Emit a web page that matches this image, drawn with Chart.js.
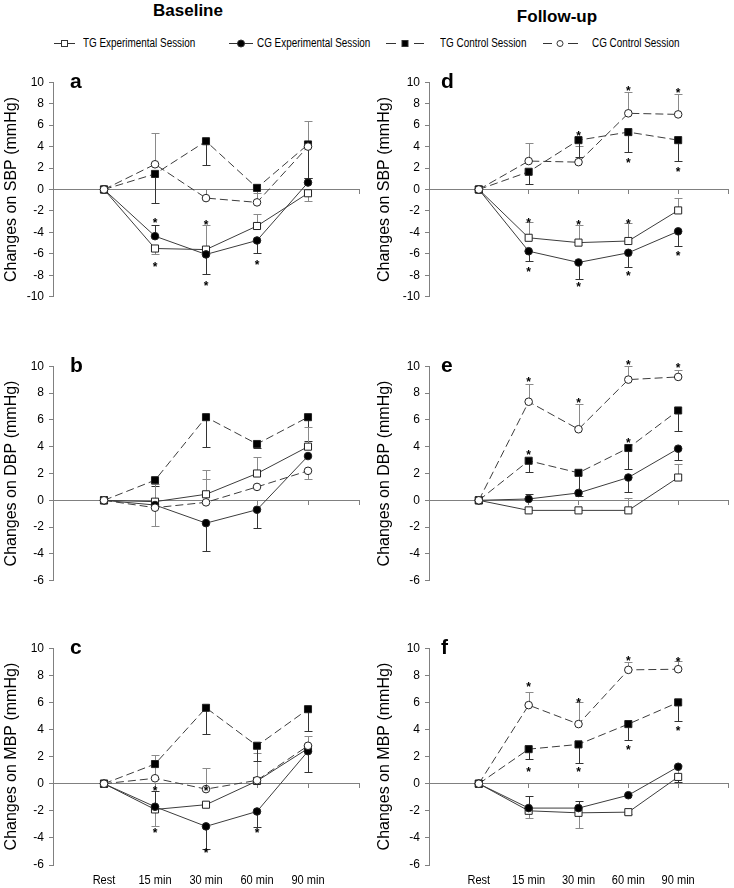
<!DOCTYPE html>
<html>
<head>
<meta charset="utf-8">
<title>Blood pressure changes</title>
<script src="https://cdn.jsdelivr.net/npm/chart.js@4.4.1/dist/chart.umd.min.js"></script>
<style>
  html, body { margin: 0; padding: 0; background: #fff; }
  body { position: relative; width: 734px; height: 888px; overflow: hidden; font-family: "Liberation Sans", Arial, sans-serif; color: #000; }
  .head { position: absolute; font-weight: bold; font-size: 17px; transform: translateX(-50%); white-space: nowrap; }
  .leg { position: absolute; top: 36px; font-size: 12px; line-height: 14px; white-space: nowrap;
         transform: scaleX(0.825); transform-origin: 0 50%; }
  canvas { position: absolute; }
  #legendMarks { position: absolute; left: 0; top: 33px; }
</style>
</head>
<body>
<div class="head" style="left:188px;top:1px">Baseline</div>
<div class="head" style="left:557px;top:7px">Follow-up</div>

<svg id="legendMarks" width="734" height="20">
  <g stroke="#333" stroke-width="1" fill="none">
    <line x1="54" y1="10.5" x2="75" y2="10.5"/>
    <rect x="61.5" y="7.5" width="6" height="6" fill="#fff"/>
    <line x1="229" y1="10.5" x2="253" y2="10.5"/>
    <circle cx="241" cy="10.5" r="3.5" fill="#000"/>
    <line x1="386" y1="10.5" x2="396" y2="10.5"/>
    <line x1="414" y1="10.5" x2="424" y2="10.5"/>
    <rect x="402" y="7.5" width="6" height="6" fill="#000"/>
    <line x1="543" y1="10.5" x2="552" y2="10.5"/>
    <line x1="568" y1="10.5" x2="578" y2="10.5"/>
    <circle cx="560" cy="10.5" r="3" fill="#fff"/>
  </g>
</svg>
<span class="leg" style="left:83px">TG Experimental Session</span>
<span class="leg" style="left:257px">CG Experimental Session</span>
<span class="leg" style="left:440px">TG Control Session</span>
<span class="leg" style="left:592px">CG Control Session</span>

<canvas id="panelA" width="366" height="239" style="left:0;top:70px"></canvas>
<canvas id="panelD" width="368" height="239" style="left:366px;top:70px"></canvas>
<canvas id="panelB" width="366" height="239" style="left:0;top:354px"></canvas>
<canvas id="panelE" width="368" height="239" style="left:366px;top:354px"></canvas>
<canvas id="panelC" width="366" height="252" style="left:0;top:636px"></canvas>
<canvas id="panelF" width="368" height="252" style="left:366px;top:636px"></canvas>

<script>
const xLabels = ['Rest', '15 min', '30 min', '60 min', '90 min'];
const xPos = [1, 2, 3, 4, 5];

// SBP, baseline (a)
const sbpBaseTgExp = [0, -5.5, -5.6, -3.4, -0.35];
const sbpBaseTgExpErr = [null, -6.05, -3.35, -2.25, -1.05];
const sbpBaseCgExp = [0, -4.35, -6.05, -4.75, 0.65];
const sbpBaseCgExpErr = [null, -3.35, -7.9, -5.95, 1.1];
const sbpBaseTgCtl = [0, 1.45, 4.5, 0.15, 4.2];
const sbpBaseTgCtlErr = [null, -1.25, 2.3, null, 1.1];
const sbpBaseCgCtl = [0, 2.35, -0.8, -1.2, 4.0];
const sbpBaseCgCtlErr = [null, 5.3, null, -0.35, 6.4];
const sbpBaseStars = [[], [-2.85, -6.9], [-3.0, -8.7], [-6.8], []];

// SBP, follow-up (d)
const sbpFollTgExp = [0, -4.5, -4.95, -4.8, -1.95];
const sbpFollTgExpErr = [null, -3.0, -3.35, -3.15, -0.75];
const sbpFollCgExp = [0, -5.75, -6.8, -5.9, -3.9];
const sbpFollCgExpErr = [null, -6.7, -8.35, -7.2, -5.25];
const sbpFollTgCtl = [0, 1.65, 4.6, 5.35, 4.6];
const sbpFollTgCtlErr = [null, 0.5, 3.0, 3.5, 2.65];
const sbpFollCgCtl = [0, 2.65, 2.55, 7.1, 7.0];
const sbpFollCgCtlErr = [null, 4.3, 4.1, 9.1, 8.9];
const sbpFollStars = [[], [-2.85, -7.4], [5.3, -3.0, -8.85], [9.5, 2.75, -2.9, -7.8], [9.3, 1.95, -5.9]];

// DBP, baseline (b)
const dbpBaseTgExp = [0, -0.1, 0.45, 2.0, 4.0];
const dbpBaseTgExpErr = [null, 1.2, 2.25, 3.2, 5.5];
const dbpBaseCgExp = [0, -0.35, -1.7, -0.7, 3.3];
const dbpBaseCgExpErr = [null, null, -3.75, -2.1, null];
const dbpBaseTgCtl = [0, 1.5, 6.2, 4.2, 6.2];
const dbpBaseTgCtlErr = [null, 1.1, 4.0, 3.9, 4.45];
const dbpBaseCgCtl = [0, -0.55, -0.15, 1.0, 2.2];
const dbpBaseCgCtlErr = [null, -1.9, 1.6, null, 1.6];
const dbpBaseStars = [[], [], [], [], []];

// DBP, follow-up (e)
const dbpFollTgExp = [0, -0.75, -0.75, -0.75, 1.7];
const dbpFollTgExpErr = [null, null, null, 0.2, 2.7];
const dbpFollCgExp = [0, 0.1, 0.55, 1.7, 3.85];
const dbpFollCgExpErr = [null, 0.5, null, 0.65, 3.0];
const dbpFollTgCtl = [0, 2.95, 2.05, 3.9, 6.7];
const dbpFollTgCtlErr = [null, 2.1, 0.3, 2.35, 5.15];
const dbpFollCgCtl = [0, 7.35, 5.3, 9.0, 9.2];
const dbpFollCgCtlErr = [null, 8.7, 7.2, 10.0, 9.7];
const dbpFollStars = [[], [9.05, 3.6], [7.5], [10.3, 4.5], [10.1]];

// MBP, baseline (c)
const mbpBaseTgExp = [0, -1.9, -1.55, 0.2, 2.6];
const mbpBaseTgExpErr = [null, -3.1, null, null, 3.5];
const mbpBaseCgExp = [0, -1.7, -3.15, -2.05, 2.4];
const mbpBaseCgExpErr = [null, -0.55, -4.85, -3.2, 0.9];
const mbpBaseTgCtl = [0, 1.45, 5.6, 2.8, 5.5];
const mbpBaseTgCtlErr = [null, null, 3.65, 1.7, 3.9];
const mbpBaseCgCtl = [0, 0.4, -0.4, 0.25, 2.8];
const mbpBaseCgCtlErr = [null, 2.1, 1.15, 2.25, null];
const mbpBaseStars = [[], [-0.35, -3.4], [-0.35, -4.9], [-3.4], []];

// MBP, follow-up (f)
const mbpFollTgExp = [0, -2.0, -2.15, -2.1, 0.5];
const mbpFollTgExpErr = [null, -2.5, -3.25, -2.2, 1.4];
const mbpFollCgExp = [0, -1.8, -1.8, -0.85, 1.25];
const mbpFollCgExpErr = [null, -0.9, -1.25, null, 0.1];
const mbpFollTgCtl = [0, 2.55, 2.9, 4.4, 6.0];
const mbpFollTgCtlErr = [null, 1.8, 1.5, 3.25, 4.6];
const mbpFollCgCtl = [0, 5.8, 4.4, 8.4, 8.45];
const mbpFollCgCtlErr = [null, 6.8, 6.05, 8.95, 9.05];
const mbpFollStars = [[], [7.35, 1.1], [6.2, 1.1], [9.3, 2.7], [9.2, 4.1]];

const FONT = '"Liberation Sans", Arial, sans-serif';
const AXIS = '#808080';
const LINE = '#3c3c3c';

// error bars sit behind the lines and markers
const errorBars = {
    id: 'errorBars',
    beforeDatasetsDraw(chart) {
        const { ctx } = chart;
        const x = chart.scales.x, y = chart.scales.y;
        ctx.save();
        ctx.lineWidth = 1;
        chart.data.datasets.forEach(ds => {
            ctx.strokeStyle = ds.errColor;
            ds.errEnd.forEach((end, i) => {
                if (end === null) return;
                const px = Math.round(x.getPixelForValue(ds.data[i].x)) + 0.5;
                const p0 = y.getPixelForValue(ds.data[i].y);
                const p1 = Math.round(y.getPixelForValue(end)) + 0.5;
                ctx.beginPath();
                ctx.moveTo(px, p0);
                ctx.lineTo(px, p1);
                ctx.moveTo(px - 4, p1);
                ctx.lineTo(px + 4, p1);
                ctx.stroke();
            });
        });
        ctx.restore();
    }
};

// panel letter, significance stars and (bottom row) the condensed time labels
const annotations = {
    id: 'annotations',
    afterDraw(chart, args, opts) {
        const { ctx, chartArea } = chart;
        const x = chart.scales.x, y = chart.scales.y;
        ctx.save();
        ctx.fillStyle = '#000';
        ctx.textBaseline = 'alphabetic';
        ctx.font = 'bold 21px ' + FONT;
        ctx.fillText(opts.letter, chartArea.left + opts.letterDx, chartArea.top + 6);
        ctx.font = 'bold 12px ' + FONT;
        ctx.textAlign = 'center';
        opts.stars.forEach((list, i) => {
            list.forEach(v => {
                ctx.fillText('*', x.getPixelForValue(xPos[i]), y.getPixelForValue(v) + 7);
            });
        });
        const xb = chart.scales.xb;
        if (xb) {
            ctx.font = '13px ' + FONT;
            xPos.forEach((v, i) => {
                ctx.save();
                ctx.translate(xb.getPixelForValue(v), xb.top + 19);
                ctx.scale(0.85, 1);
                ctx.fillText(xLabels[i], 0, 0);
                ctx.restore();
            });
        }
        ctx.restore();
    }
};

function buildDatasets(tgExp, tgExpErr, cgExp, cgExpErr, tgCtl, tgCtlErr, cgCtl, cgCtlErr) {
    const pts = vals => vals.map((v, i) => ({ x: xPos[i], y: v }));
    // index 0 is drawn on top
    return [
        { label: 'CG Control Session', data: pts(cgCtl), errEnd: cgCtlErr, errColor: '#8a8a8a',
          borderDash: [8, 4], pointStyle: 'circle', pointRadius: 3.8, pointBackgroundColor: '#fff' },
        { label: 'TG Control Session', data: pts(tgCtl), errEnd: tgCtlErr, errColor: '#333',
          borderDash: [8, 4], pointStyle: 'rect', pointRadius: 5, pointBackgroundColor: '#000' },
        { label: 'CG Experimental Session', data: pts(cgExp), errEnd: cgExpErr, errColor: '#333',
          pointStyle: 'circle', pointRadius: 3.8, pointBackgroundColor: '#000' },
        { label: 'TG Experimental Session', data: pts(tgExp), errEnd: tgExpErr, errColor: '#8a8a8a',
          pointStyle: 'rect', pointRadius: 5, pointBackgroundColor: '#fff' }
    ].map(d => Object.assign({
        xAxisID: 'x', yAxisID: 'y',
        borderColor: LINE, borderWidth: 1, tension: 0, fill: false,
        pointBorderColor: '#222', pointBorderWidth: 1
    }, d));
}

function makePanel(id, p) {
    const left = p.side === 'left';
    const scales = {
        x: {
            type: 'linear', min: 0, max: 6, position: { y: 0 },
            ticks: { display: false, stepSize: 1 },
            grid: { drawOnChartArea: false, tickLength: 4, color: AXIS },
            border: { color: AXIS }
        },
        y: {
            min: p.yMin, max: p.yMax,
            afterFit: s => { s.width = left ? 53 : 63; },
            ticks: { stepSize: 2, color: '#000', padding: 5, font: { size: 12, family: FONT } },
            grid: { drawOnChartArea: false, tickLength: 4, color: AXIS },
            border: { color: AXIS },
            title: { display: true, text: p.yTitle, color: '#000',
                     font: { size: 16, family: FONT }, padding: { top: left ? 2 : 9, bottom: 0 } }
        }
    };
    if (p.showLabels) {
        // holds the space below the plot; its labels are drawn condensed by the annotations plugin
        scales.xb = {
            type: 'linear', min: 0, max: 6, position: 'bottom',
            afterFit: s => { s.height = 23; },
            ticks: { display: false },
            grid: { display: false },
            border: { display: false }
        };
    }
    return new Chart(document.getElementById(id), {
        type: 'line',
        data: { datasets: p.datasets },
        options: {
            responsive: false,
            animation: false,
            events: [],
            layout: { padding: { top: 10, right: left ? 7 : 1, bottom: p.showLabels ? 0 : 10, left: 0 } },
            plugins: {
                legend: { display: false },
                tooltip: { enabled: false },
                annotations: { letter: p.letter, letterDx: left ? 17 : 12, stars: p.stars }
            },
            scales
        },
        plugins: [errorBars, annotations]
    });
}

makePanel('panelA', { side: 'left', yMin: -10, yMax: 10, yTitle: 'Changes on SBP (mmHg)', letter: 'a', stars: sbpBaseStars,
    datasets: buildDatasets(sbpBaseTgExp, sbpBaseTgExpErr, sbpBaseCgExp, sbpBaseCgExpErr, sbpBaseTgCtl, sbpBaseTgCtlErr, sbpBaseCgCtl, sbpBaseCgCtlErr) });
makePanel('panelD', { side: 'right', yMin: -10, yMax: 10, yTitle: 'Changes on SBP (mmHg)', letter: 'd', stars: sbpFollStars,
    datasets: buildDatasets(sbpFollTgExp, sbpFollTgExpErr, sbpFollCgExp, sbpFollCgExpErr, sbpFollTgCtl, sbpFollTgCtlErr, sbpFollCgCtl, sbpFollCgCtlErr) });
makePanel('panelB', { side: 'left', yMin: -6, yMax: 10, yTitle: 'Changes on DBP (mmHg)', letter: 'b', stars: dbpBaseStars,
    datasets: buildDatasets(dbpBaseTgExp, dbpBaseTgExpErr, dbpBaseCgExp, dbpBaseCgExpErr, dbpBaseTgCtl, dbpBaseTgCtlErr, dbpBaseCgCtl, dbpBaseCgCtlErr) });
makePanel('panelE', { side: 'right', yMin: -6, yMax: 10, yTitle: 'Changes on DBP (mmHg)', letter: 'e', stars: dbpFollStars,
    datasets: buildDatasets(dbpFollTgExp, dbpFollTgExpErr, dbpFollCgExp, dbpFollCgExpErr, dbpFollTgCtl, dbpFollTgCtlErr, dbpFollCgCtl, dbpFollCgCtlErr) });
makePanel('panelC', { side: 'left', yMin: -6, yMax: 10, yTitle: 'Changes on MBP (mmHg)', letter: 'c', stars: mbpBaseStars, showLabels: true,
    datasets: buildDatasets(mbpBaseTgExp, mbpBaseTgExpErr, mbpBaseCgExp, mbpBaseCgExpErr, mbpBaseTgCtl, mbpBaseTgCtlErr, mbpBaseCgCtl, mbpBaseCgCtlErr) });
makePanel('panelF', { side: 'right', yMin: -6, yMax: 10, yTitle: 'Changes on MBP (mmHg)', letter: 'f', stars: mbpFollStars, showLabels: true,
    datasets: buildDatasets(mbpFollTgExp, mbpFollTgExpErr, mbpFollCgExp, mbpFollCgExpErr, mbpFollTgCtl, mbpFollTgCtlErr, mbpFollCgCtl, mbpFollCgCtlErr) });
</script>
</body>
</html>
